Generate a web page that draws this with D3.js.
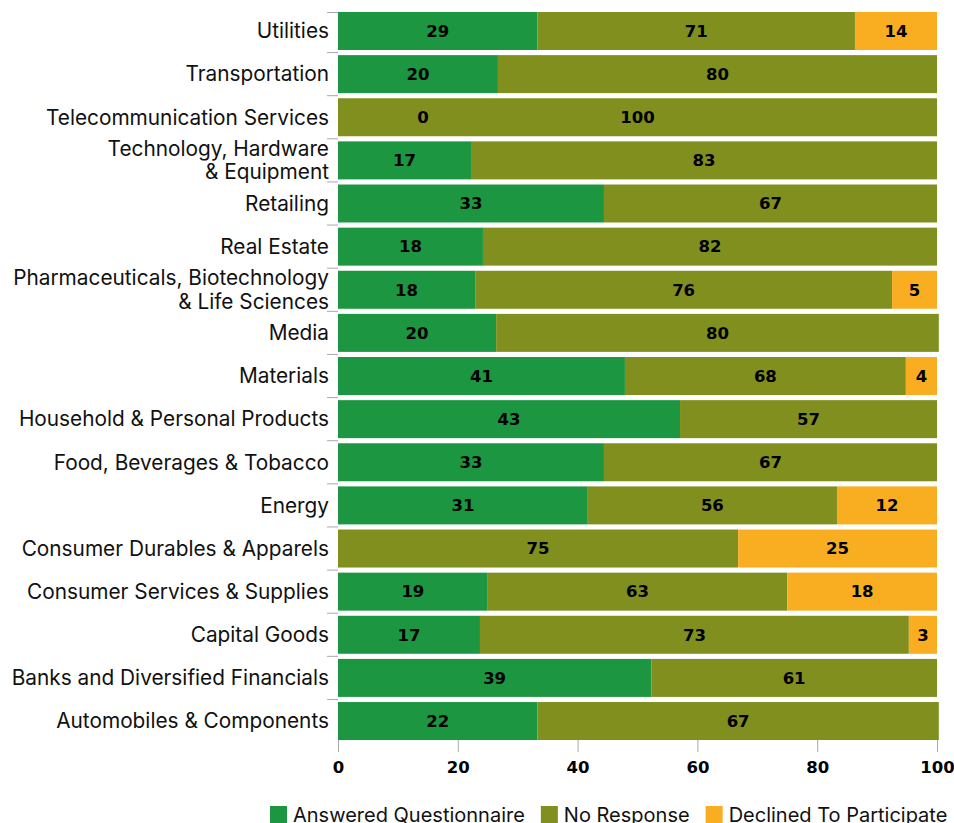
<!DOCTYPE html>
<html>
<head>
<meta charset="utf-8">
<script src="https://cdn.jsdelivr.net/npm/d3@7"></script>
<style>
  body { margin: 0; background: #fff; }
  .cat { font-family: Inter, "Liberation Sans", sans-serif; font-size: 20.8px; fill: #111; }
  .num { font-family: "DejaVu Sans", sans-serif; font-weight: bold; font-size: 16.5px; fill: #000; }
  .legend text { font-family: Inter, "Liberation Sans", sans-serif; font-size: 20px; fill: #111; }
</style>
</head>
<body>
<div id="chart"></div>
<script>
// categories, top to bottom
const categories = [
  "Utilities", "Transportation", "Telecommunication Services",
  "Technology, Hardware|& Equipment", "Retailing", "Real Estate",
  "Pharmaceuticals, Biotechnology|& Life Sciences", "Media", "Materials",
  "Household & Personal Products", "Food, Beverages & Tobacco", "Energy",
  "Consumer Durables & Apparels", "Consumer Services & Supplies", "Capital Goods",
  "Banks and Diversified Financials", "Automobiles & Components"
];

// segment widths (share of bar, %)
const pctAnswered   = [33.3, 26.7, 0, 22.2, 44.4, 24.2, 22.9, 26.4, 47.9, 57.1, 44.4, 41.7, 0, 25.0, 23.7, 52.3, 33.3];
const pctNoResponse = [53.0, 73.3, 100, 77.8, 55.6, 75.8, 69.6, 73.9, 46.9, 42.9, 55.6, 41.6, 66.8, 50.0, 71.6, 47.7, 67.0];
const pctDeclined   = [13.7, 0, 0, 0, 0, 0, 7.5, 0, 5.2, 0, 0, 16.7, 33.2, 25.0, 4.7, 0, 0];

// numbers printed on the segments
const lblAnswered   = [29, 20, 0, 17, 33, 18, 18, 20, 41, 43, 33, 31, null, 19, 17, 39, 22];
const lblNoResponse = [71, 80, 100, 83, 67, 82, 76, 80, 68, 57, 67, 56, 75, 63, 73, 61, 67];
const lblDeclined   = [14, null, null, null, null, null, 5, null, 4, null, null, 12, 25, 18, 3, null, null];

const seriesNames = ["Answered Questionnaire", "No Response", "Declined To Participate"];
const xTicks = [0, 20, 40, 60, 80, 100];

const colors = ["#1d9641", "#808f1e", "#f9ae22"];
const zeroLabelAt = 14.2; // where a label of an empty segment sits

const width = 954, height = 823;
const svg = d3.select("#chart").append("svg")
  .attr("width", width).attr("height", height);

const x = d3.scaleLinear().domain([0, 100]).range([338, 937]);
const y = d3.scaleBand().domain(categories).range([9.44, 742.6])
  .paddingInner(0.119).paddingOuter(0.0595);

const keys = ["a", "n", "d"];
const table = categories.map((c, i) => ({
  cat: c, a: pctAnswered[i], n: pctNoResponse[i], d: pctDeclined[i],
  la: lblAnswered[i], ln: lblNoResponse[i], ld: lblDeclined[i]
}));
const stacked = d3.stack().keys(keys)(table);
const lblKey = { a: "la", n: "ln", d: "ld" };

// bars
const layers = svg.append("g").selectAll("g")
  .data(stacked).join("g")
  .attr("fill", (d, i) => colors[i]);

layers.selectAll("rect")
  .data(d => d)
  .join("rect")
  .attr("x", d => x(d[0]))
  .attr("y", d => y(d.data.cat))
  .attr("width", d => x(d[1]) - x(d[0]))
  .attr("height", y.bandwidth());

// segment labels
const labels = [];
stacked.forEach(layer => {
  layer.forEach(d => {
    const v = d.data[lblKey[layer.key]];
    if (v == null) return;
    const cx = d[1] > d[0] ? (x(d[0]) + x(d[1])) / 2 : x(zeroLabelAt);
    labels.push({ v, cx, cy: y(d.data.cat) + y.bandwidth() / 2 });
  });
});
svg.append("g").selectAll("text")
  .data(labels).join("text")
  .attr("class", "num")
  .attr("text-anchor", "middle")
  .attr("x", d => d.cx)
  .attr("y", d => d.cy)
  .attr("dy", "0.35em")
  .text(d => d.v);

// category axis: small ticks between rows
const gap = y.step() * y.paddingInner();
svg.append("g").selectAll("line")
  .data(categories).join("line")
  .attr("x1", 327).attr("x2", 338)
  .attr("y1", (d, i) => i === 0 ? y(d) + 0.5 : y(d) - gap / 2)
  .attr("y2", (d, i) => i === 0 ? y(d) + 0.5 : y(d) - gap / 2)
  .attr("stroke", "#aaa").attr("stroke-width", 1);

const catText = svg.append("g").selectAll("text")
  .data(categories).join("text")
  .attr("class", "cat")
  .attr("text-anchor", "end")
  .attr("x", 329)
  .attr("y", d => y(d) + y.bandwidth() / 2);

catText.each(function (d) {
  const lines = d.split("|");
  const t = d3.select(this);
  lines.forEach((ln, j) => {
    t.append("tspan")
      .attr("x", 329)
      .attr("dy", j === 0 ? (0.35 - (lines.length - 1) * 0.565) + "em" : "1.13em")
      .text(ln);
  });
});

// value axis
const xAxis = svg.append("g")
  .attr("transform", "translate(0," + 740 + ")")
  .call(d3.axisBottom(x).tickValues(xTicks).tickSize(12).tickPadding(9).tickFormat(d3.format("d")));
xAxis.select(".domain").remove();
xAxis.selectAll(".tick line").attr("stroke", "#aaa");
xAxis.selectAll(".tick text")
  .attr("class", "num")
  .attr("font-family", null).attr("font-size", null)
  .attr("fill", "#000");

// legend
const legend = svg.append("g").attr("class", "legend");
let lx = 270;
seriesNames.forEach((name, i) => {
  legend.append("rect")
    .attr("x", lx).attr("y", 806)
    .attr("width", 17).attr("height", 17)
    .attr("fill", colors[i]);
  const t = legend.append("text")
    .attr("x", lx + 23).attr("y", 821.5)
    .text(name);
  lx += 23 + t.node().getComputedTextLength() + 16;
});
</script>
</body>
</html>
